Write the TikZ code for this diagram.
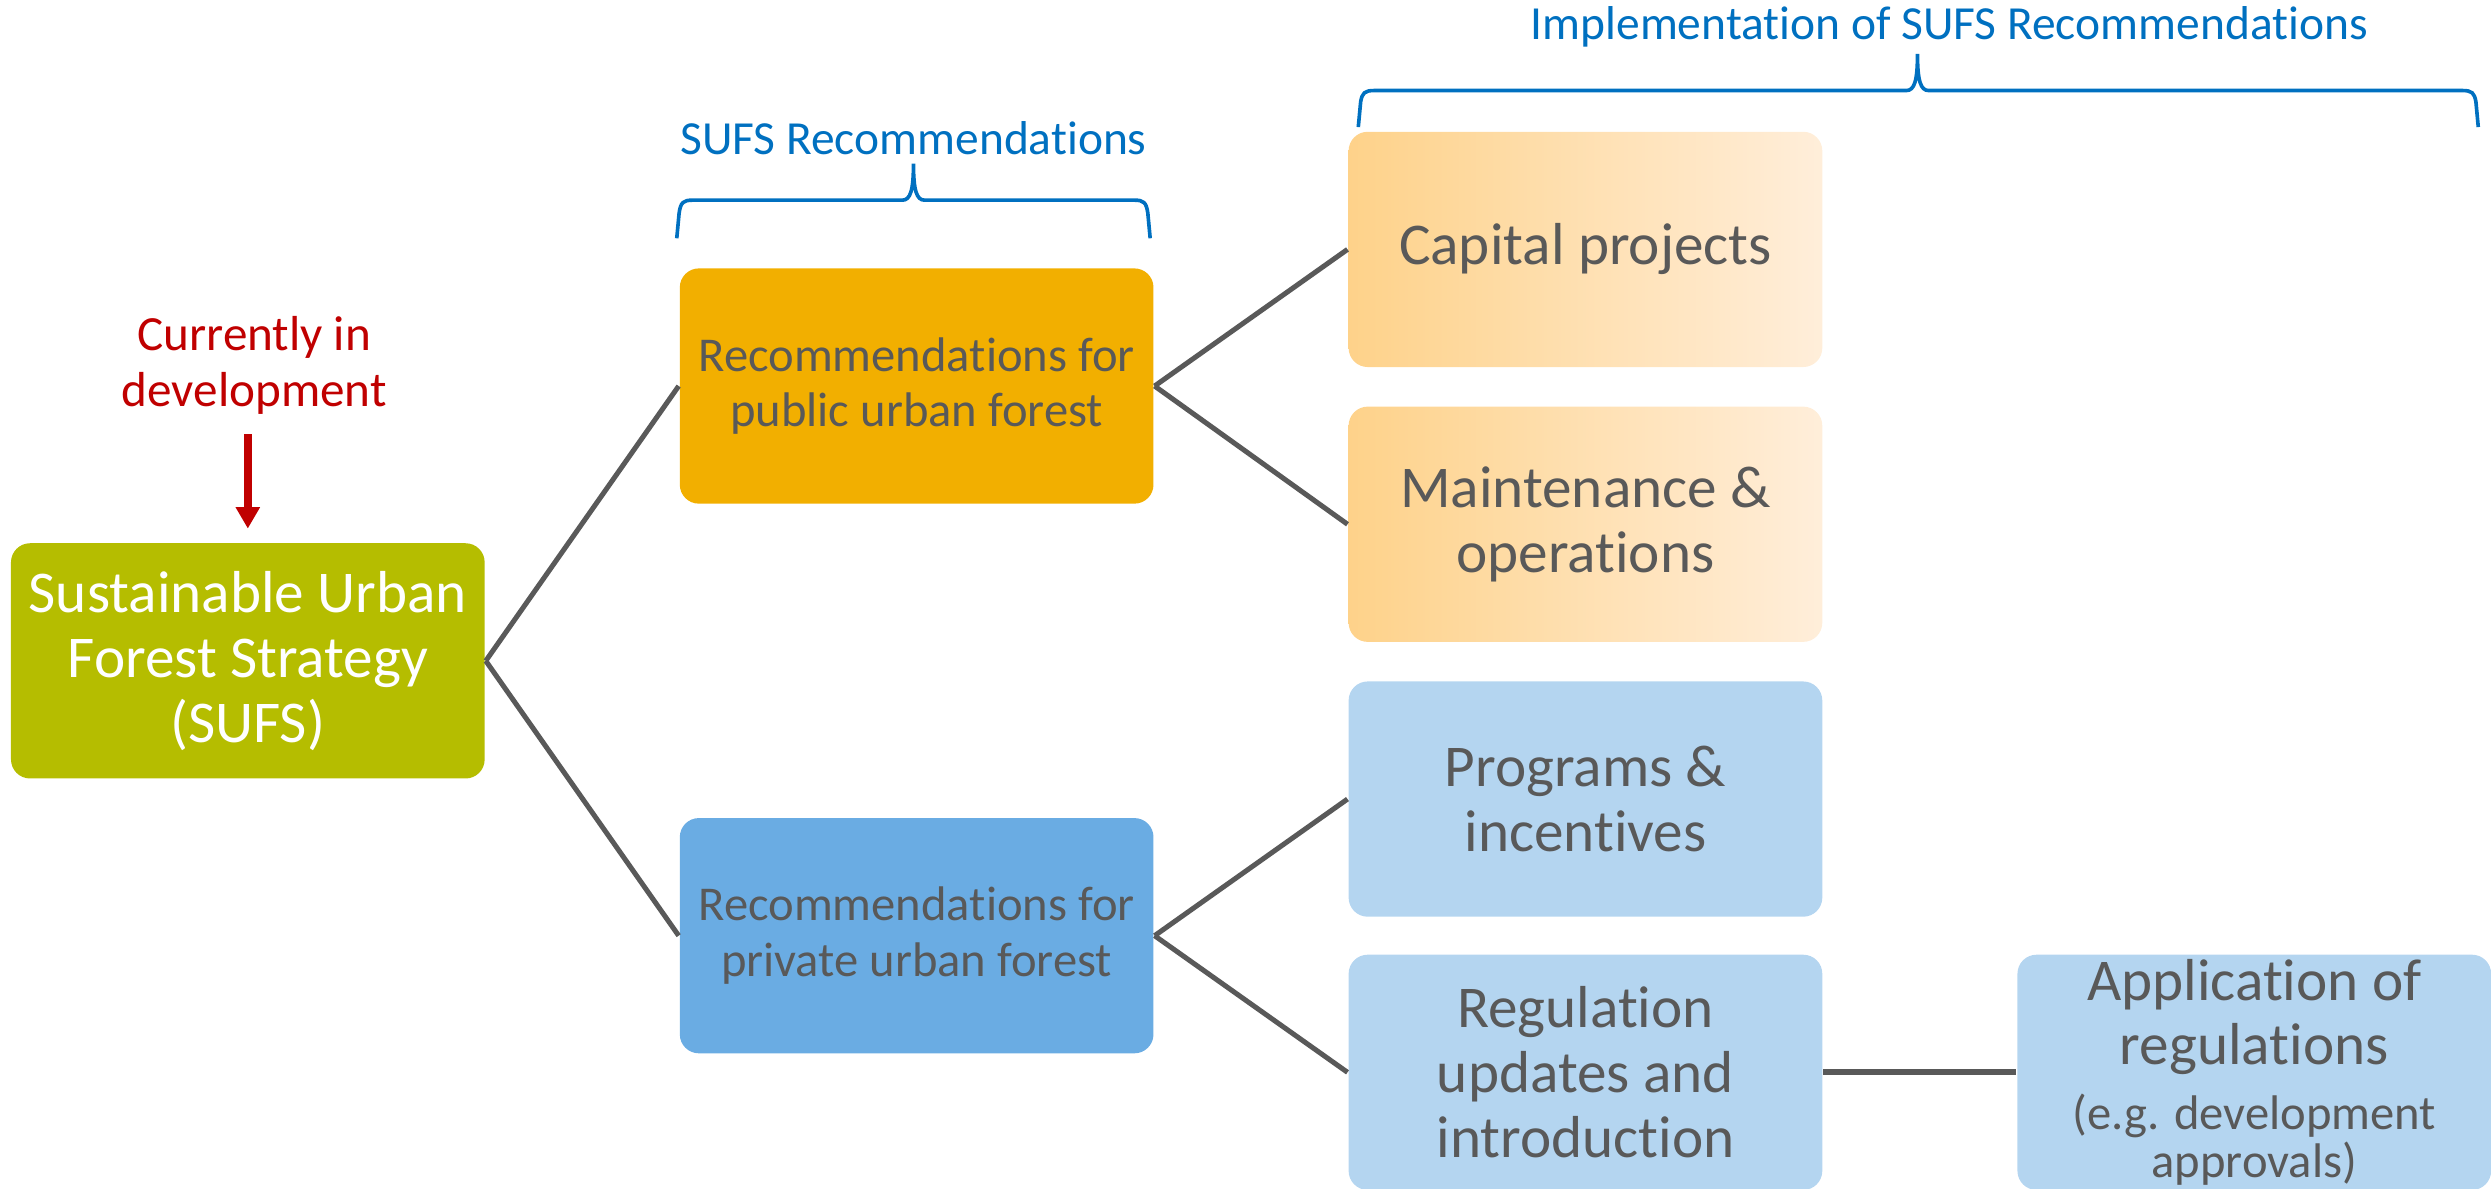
\documentclass[tikz,border=0pt]{standalone}
\usepackage{fontspec}
\setmainfont{Carlito}[Ligatures=NoCommon]
\usetikzlibrary{arrows.meta}
\definecolor{sufsgreen}{HTML}{B5BD00}
\definecolor{puborange}{HTML}{F2AF00}
\definecolor{privblue}{HTML}{6AACE3}
\definecolor{lightblue}{HTML}{B4D5F0}
\definecolor{warmleft}{HTML}{FED28A}
\definecolor{warmright}{HTML}{FFEEDA}
\definecolor{txtgray}{HTML}{595959}
\definecolor{braceblue}{HTML}{0070C0}
\definecolor{devred}{HTML}{C00000}
\newcommand{\smallnote}{\fontsize{8.7}{9.6}\selectfont}

\begin{document}
\begin{tikzpicture}[x=0.01cm,y=-0.01cm,
		box/.style={rounded corners=0.12cm,minimum width=2.98cm,minimum height=1.48cm,align=center,text=txtgray,inner sep=2pt,font=\fontsize{10.6}{11.6}\selectfont},
		recbox/.style={box,font=\fontsize{8.7}{10}\selectfont},
		warm/.style={box,left color=warmleft,right color=warmright},
		cool/.style={box,fill=lightblue},
		link/.style={line width=0.9pt,draw=txtgray},
		brace/.style={line width=0.65pt,draw=braceblue},
		bracetext/.style={text=braceblue,font=\fontsize{8.5}{10}\selectfont}]
		\useasboundingbox (0,0) rectangle (1568,748.4);
		
		\node[box,fill=sufsgreen,text=white](sufs)at(156,416) {Sustainable Urban\\Forest Strategy\\(SUFS)};
		\node[recbox,fill=puborange](pub)at(577,243) {Recommendations for\\public urban forest};
		\node[recbox,fill=privblue](priv)at(577,589) {Recommendations for\\private urban forest};
		\node[warm](cap)at(998,157) {Capital projects};
		\node[warm](maint)at(998,330) {Maintenance \&\\operations};
		\node[cool](prog)at(998,503) {Programs \&\\incentives};
		\node[cool](reg)at(998,675) {Regulation\\updates and\\introduction};
		\node[cool,inner ysep=0pt](app)at(1419,675) {Application of\\regulations\\{\smallnote (e.g. development}\\[-3pt]{\smallnote approvals)}};
		
		\node[align=center,text=devred,font=\fontsize{8.8}{10.1}\selectfont](dev)at(160,230) {Currently in\\development};
		\draw[line width=1.35pt,devred,-{Triangle[length=0.135cm,width=0.145cm]},shorten >=0.085cm](dev.south -| sufs.north) -- (sufs.north);
		
		\draw[link](sufs.east) -- (pub.west);
		\draw[link](sufs.east) -- (priv.west);
		\draw[link](pub.east) -- (cap.west);
		\draw[link](pub.east) -- (maint.west);
		\draw[link](priv.east) -- (prog.west);
		\draw[link](priv.east) -- (reg.west);
		\draw[link,line width=1.1pt](reg.east) -- (app.west);
		
		% braces over the two groups
		\node[bracetext](sufsrec)at(575,87) {SUFS Recommendations};
		\draw[brace](426,150) -- (427.5,134) .. controls (428.5,127.5) and (430,126) .. (436,126) -- (568,126) .. controls (573,126) and (575,120) .. (575,103) .. controls (575,120) and (577,126) .. (582,126) -- (714,126) .. controls (720,126) and (721.5,127.5) .. (722.5,134) -- (724,150);
		\node[bracetext](implrec)at(1227,17) {Implementation of SUFS Recommendations};
		\draw[brace](855,80) -- (856.5,64) .. controls (857.5,58.5) and (859,57) .. (865,57) -- (1200,57) .. controls (1205,57) and (1207,51) .. (1207,34) .. controls (1207,51) and (1209,57) .. (1214,57) -- (1550,57) .. controls (1556,57) and (1557.5,58.5) .. (1558.5,64) -- (1560,80);
	\end{tikzpicture}
\end{document}
